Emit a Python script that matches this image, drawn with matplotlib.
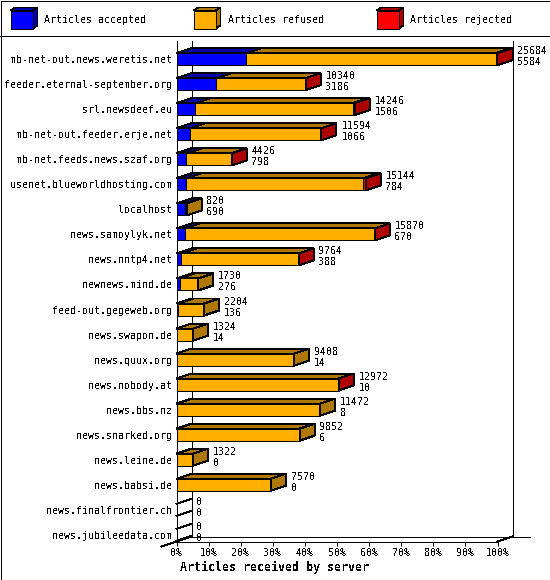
import matplotlib
matplotlib.use('Agg')
import matplotlib.pyplot as plt
from matplotlib.patches import Polygon

servers = ['mb-net-out.news.weretis.net', 'feeder.eternal-september.org', 'srl.newsdeef.eu',
           'mb-net-out.feeder.erje.net', 'mb-net.feeds.news.szaf.org', 'usenet.blueworldhosting.com',
           'localhost', 'news.samoylyk.net', 'news.nntp4.net', 'newnews.mind.de',
           'feed-out.gegeweb.org', 'news.swapon.de', 'news.quux.org', 'news.nobody.at',
           'news.bbs.nz', 'news.snarked.org', 'news.leine.de', 'news.babsi.de',
           'news.finalfrontier.ch', 'news.jubileedata.com']
totals = [25684, 10340, 14246, 11594, 4426, 15144, 820, 15870, 9764, 1730,
          2204, 1324, 9408, 12972, 11472, 9852, 1322, 7570, 0, 0]
accepted = [5584, 3186, 1506, 1066, 798, 784, 690, 670, 388, 276,
            136, 14, 14, 10, 8, 6, 0, 0, 0, 0]
refused = [19950, 7094, 12590, 10498, 3598, 14160, 130, 15180, 9366, 1454,
           2068, 1310, 9394, 12942, 11464, 9846, 1322, 7570, 0, 0]
rejected = [150, 60, 150, 30, 30, 200, 0, 20, 10, 0,
            0, 0, 0, 20, 0, 0, 0, 0, 0, 0]
legend_names = ['Articles accepted', 'Articles refused', 'Articles rejected']
percent_ticks = [0, 10, 20, 30, 40, 50, 60, 70, 80, 90, 100]

front = ['#0000FF', '#FFAF00', '#FF0000']
dark = ['#0000AF', '#AF7800', '#AF0000']

plt.rcParams['font.family'] = 'DejaVu Sans Mono'
plt.rcParams['font.size'] = 7.2
plt.rcParams['text.antialiased'] = False
PX = 0.72  # one pixel in points at dpi 100

W, H = 550, 580
fig = plt.figure(figsize=(W / 100, H / 100), dpi=100, facecolor='white')

# overlay in pixel coordinates for the frame and the legend
bg = fig.add_axes([0, 0, 1, 1])
bg.set_xlim(0, W)
bg.set_ylim(H, 0)
bg.axis('off')
bg.add_patch(Polygon([(0.5, 0.5), (549.5, 0.5), (549.5, 579.5), (0.5, 579.5)], closed=True,
                     fc='none', ec='black', lw=PX, aa=False))
bg.plot([0, 550], [35.5, 35.5], color='black', lw=PX, aa=False)

for k, name in enumerate(legend_names):
    x0 = 10.5 + 183 * k
    x1 = x0 + 22
    y0, y1 = 10.5, 28.5
    bg.add_patch(Polygon([(x0, y0), (x0 + 5, y0 - 3), (x1 + 5, y0 - 3), (x1, y0)], closed=True,
                         fc=dark[k], ec='black', lw=PX, aa=False))
    bg.add_patch(Polygon([(x1, y0), (x1 + 5, y0 - 3), (x1 + 5, y1 - 3), (x1, y1)], closed=True,
                         fc=dark[k], ec='black', lw=PX, aa=False))
    bg.add_patch(Polygon([(x0, y0), (x1, y0), (x1, y1), (x0, y1)], closed=True,
                         fc=front[k], ec='black', lw=PX, aa=False))
    bg.text(x0 + 34, 20, name, ha='left', va='center')

bg.text(274, 567, 'Articles received by server', ha='center', va='center',
        fontsize=8.4, fontweight='bold')

# front plane of the chart
left, right, top, bottom = 176.5, 497.5, 40.5, 541.5
ax = fig.add_axes([left / W, 1 - bottom / H, (right - left) / W, (bottom - top) / H])
ax.patch.set_alpha(0)
row_h = 25.03
ax.set_xlim(0, 100)
ax.set_ylim((bottom - 59.2) / row_h, (top - 59.2) / row_h)
depth_x = 15 / (right - left) * 100
depth_y = 5 / row_h
bar_h = 12 / row_h

for s in ['top', 'right']:
    ax.spines[s].set_visible(False)
for s in ['left', 'bottom']:
    ax.spines[s].set_linewidth(PX)
    ax.spines[s].set_antialiased(False)

ax.set_yticks(range(len(servers)))
ax.set_yticklabels(servers)
ax.tick_params(axis='y', length=0, pad=3)
ax.set_xticks(percent_ticks)
ax.set_xticklabels([f'{p}%' for p in percent_ticks])
ax.tick_params(axis='x', length=3, width=PX, pad=2)

# back wall, floor and the small tick sticking out at the corner
y_floor = ax.get_ylim()[0]
y_top = ax.get_ylim()[1]
lines = [([depth_x, depth_x], [y_top, y_floor - depth_y]),
         ([100 + depth_x, 100 + depth_x], [y_top, y_floor - depth_y]),
         ([depth_x, 100 + depth_x + 5.6], [y_floor - depth_y, y_floor - depth_y]),
         ([-depth_x, 0, depth_x], [y_floor + depth_y, y_floor, y_floor - depth_y]),
         ([100, 100 + depth_x], [y_floor, y_floor - depth_y])]
for xs, ys in lines:
    ax.plot(xs, ys, color='black', lw=PX, aa=False, clip_on=False, zorder=1)

largest = max(totals)
for i in range(len(servers)):
    start = 0
    top_y = i - bar_h / 2
    low_y = i + bar_h / 2
    last = 1
    for k, values in enumerate([accepted, refused, rejected]):
        v = values[i] / largest * 100
        if values[i] == 0:
            continue
        last = k
        ax.barh(i, v, left=start, height=bar_h, color=front[k], edgecolor='black',
                linewidth=PX, antialiased=False, zorder=3)
        ax.add_patch(Polygon([(start, top_y), (start + depth_x, top_y - depth_y),
                              (start + v + depth_x, top_y - depth_y), (start + v, top_y)],
                             closed=True, fc=dark[k], ec='black', lw=PX, aa=False,
                             clip_on=False, zorder=2))
        start += v
    if totals[i] == 0:
        # empty rows only leave the two edges of the bar
        for y in (top_y, low_y):
            ax.plot([0, depth_x], [y, y - depth_y], color='black', lw=PX, aa=False,
                    clip_on=False, zorder=2)
    else:
        ax.add_patch(Polygon([(start, top_y), (start + depth_x, top_y - depth_y),
                              (start + depth_x, low_y - depth_y), (start, low_y)],
                             closed=True, fc=dark[last], ec='black', lw=PX, aa=False,
                             clip_on=False, zorder=4))
    ax.annotate(str(totals[i]), xy=(start, i), xytext=(20, 8), textcoords='offset pixels',
                ha='left', va='center', zorder=6)
    ax.annotate(str(accepted[i]), xy=(start, i), xytext=(20, -3), textcoords='offset pixels',
                ha='left', va='center', zorder=6)

fig.savefig('out.png', dpi=100)
